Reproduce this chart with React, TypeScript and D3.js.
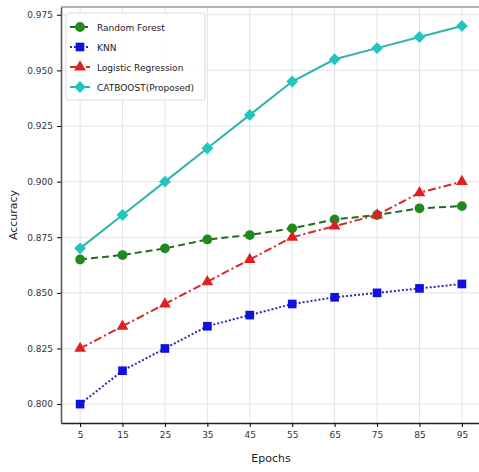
import React, { useRef, useEffect } from 'react';
import * as d3 from 'd3';

const epochs = [5, 15, 25, 35, 45, 55, 65, 75, 85, 95];
const randomForest = [0.865, 0.867, 0.870, 0.874, 0.876, 0.879, 0.883, 0.885, 0.888, 0.889];
const knn = [0.800, 0.815, 0.825, 0.835, 0.840, 0.845, 0.848, 0.850, 0.852, 0.854];
const logistic = [0.825, 0.835, 0.845, 0.855, 0.865, 0.875, 0.880, 0.885, 0.895, 0.900];
const catboost = [0.870, 0.885, 0.900, 0.915, 0.930, 0.945, 0.955, 0.960, 0.965, 0.970];
const yTicks = [0.800, 0.825, 0.850, 0.875, 0.900, 0.925, 0.950, 0.975];

const W = 479;
const H = 472;

export default function App() {
    const svgRef = useRef<SVGSVGElement>(null);

    useEffect(() => {
        const svg = d3.select(svgRef.current);
        svg.selectAll('*').remove();

        const left = 61, right = 481, top = 7, bottom = 423;
        const x = d3.scaleLinear().domain([0.5, 99.5]).range([left, right]);
        const y = d3.scaleLinear().domain([0.7915, 0.9785]).range([bottom, top]);

        const g = svg.append('g');
        const font = 'DejaVu Sans, sans-serif';

        // grid
        g.selectAll('line.gx').data(epochs).join('line')
            .attr('x1', d => x(d)).attr('x2', d => x(d))
            .attr('y1', top).attr('y2', bottom)
            .attr('stroke', '#e4e4e4').attr('stroke-width', 1);
        g.selectAll('line.gy').data(yTicks).join('line')
            .attr('class', 'gy')
            .attr('x1', left).attr('x2', right)
            .attr('y1', d => y(d)).attr('y2', d => y(d))
            .attr('stroke', '#e4e4e4').attr('stroke-width', 1);

        // frame
        g.append('line').attr('x1', left).attr('x2', right).attr('y1', top).attr('y2', top)
            .attr('stroke', '#999').attr('stroke-width', 1.5);

        const series = [
            { name: 'Random Forest', values: randomForest, line: '#1f6b1f', fill: '#1e8a1e', dash: '7,4', marker: d3.symbolCircle, size: 75, rot: 0 },
            { name: 'KNN', values: knn, line: '#2a2ab0', fill: '#1010e0', dash: '2,2', marker: d3.symbolSquare, size: 75, rot: 0 },
            { name: 'Logistic Regression', values: logistic, line: '#d42a2a', fill: '#e02020', dash: '8,3,2,3', marker: d3.symbolTriangle, size: 60, rot: 0 },
            { name: 'CATBOOST(Proposed)', values: catboost, line: '#2fb3aa', fill: '#22c4c0', dash: null, marker: d3.symbolSquare, size: 70, rot: 45 },
        ];

        const line = d3.line<number>()
            .x((d, i) => x(epochs[i]))
            .y(d => y(d));

        series.forEach(s => {
            g.append('path')
                .attr('d', line(s.values))
                .attr('fill', 'none')
                .attr('stroke', s.line)
                .attr('stroke-width', 2)
                .attr('stroke-dasharray', s.dash);
            g.append('g').selectAll('path').data(s.values).join('path')
                .attr('transform', (d, i) => `translate(${x(epochs[i])},${y(d)}) rotate(${s.rot})`)
                .attr('d', d3.symbol().type(s.marker).size(s.size)())
                .attr('fill', s.fill);
        });

        // axes
        const xAxis = g.append('g').attr('transform', `translate(0,${bottom})`)
            .call(d3.axisBottom(x).tickValues(epochs).tickSizeInner(4).tickSizeOuter(0).tickPadding(5));
        xAxis.select('.domain').attr('stroke', '#222').attr('stroke-width', 1.5);
        xAxis.selectAll('text').attr('font-family', font).attr('font-size', 9).attr('fill', '#333');

        const yAxis = g.append('g').attr('transform', `translate(${left},0)`)
            .call(d3.axisLeft(y).tickValues(yTicks).tickFormat(d3.format('.3f')).tickSizeInner(4).tickSizeOuter(0).tickPadding(4));
        yAxis.select('.domain').attr('stroke', '#555').attr('stroke-width', 1.5);
        yAxis.selectAll('text').attr('font-family', font).attr('font-size', 9).attr('fill', '#333');

        g.append('text').attr('x', (left + right) / 2).attr('y', 462)
            .attr('text-anchor', 'middle').attr('font-family', font).attr('font-size', 11)
            .attr('fill', '#222').text('Epochs');
        g.append('text').attr('transform', `translate(17,${(top + bottom) / 2}) rotate(-90)`)
            .attr('text-anchor', 'middle').attr('font-family', font).attr('font-size', 11)
            .attr('fill', '#222').text('Accuracy');

        // legend
        const lg = g.append('g').attr('transform', 'translate(66,13)');
        lg.append('rect').attr('width', 139).attr('height', 87).attr('rx', 2)
            .attr('fill', 'white').attr('fill-opacity', 0.9).attr('stroke', '#ddd');
        series.forEach((s, i) => {
            const cy = 14 + i * 20;
            lg.append('line').attr('x1', 4).attr('x2', 24).attr('y1', cy).attr('y2', cy)
                .attr('stroke', s.line).attr('stroke-width', 2).attr('stroke-dasharray', s.dash);
            lg.append('path').attr('transform', `translate(14,${cy}) rotate(${s.rot})`)
                .attr('d', d3.symbol().type(s.marker).size(s.size)()).attr('fill', s.fill);
            lg.append('text').attr('x', 31).attr('y', cy + 3.5)
                .attr('font-family', font).attr('font-size', 9).attr('fill', '#222').text(s.name);
        });
    }, []);

    return (
        <div style={{ position: 'fixed', left: 0, top: 0, background: 'white' }}>
            <svg width={W} height={H} ref={svgRef} style={{ display: 'block' }}></svg>
        </div>
    );
}
